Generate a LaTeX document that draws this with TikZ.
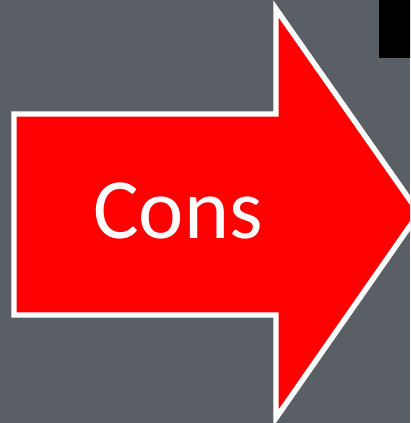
\documentclass[tikz,border=0pt]{standalone}
\usepackage{fontspec}
\setmainfont{Carlito}
\usepackage{tikz}
\usetikzlibrary{positioning}
\definecolor{slidegray}{HTML}{5A5F66}
\definecolor{arrowred}{HTML}{FF0000}

\begin{document}
\begin{tikzpicture}[x=0.025cm, y=-0.025cm]
    % Background
    \fill[slidegray] (0,0) rectangle (410,423);
    \useasboundingbox (0,0) rectangle (410,423);
    \clip (0,0) rectangle (410,423);

    % Black corner block
    \fill[black] (379,-5) rectangle (415,58);

    % Arrow
    \draw[fill=arrowred, draw=white, line width=3.9pt, line join=miter]
        (14,114) -- (276,114) -- (276,9) -- (419,213) -- (276,418)
        -- (276,315) -- (14,315) -- cycle;

    % Label
    \node[anchor=base, text=white, font=\fontsize{61}{70}\selectfont] (cons) at (178,238) {Cons};
\end{tikzpicture}
\end{document}
